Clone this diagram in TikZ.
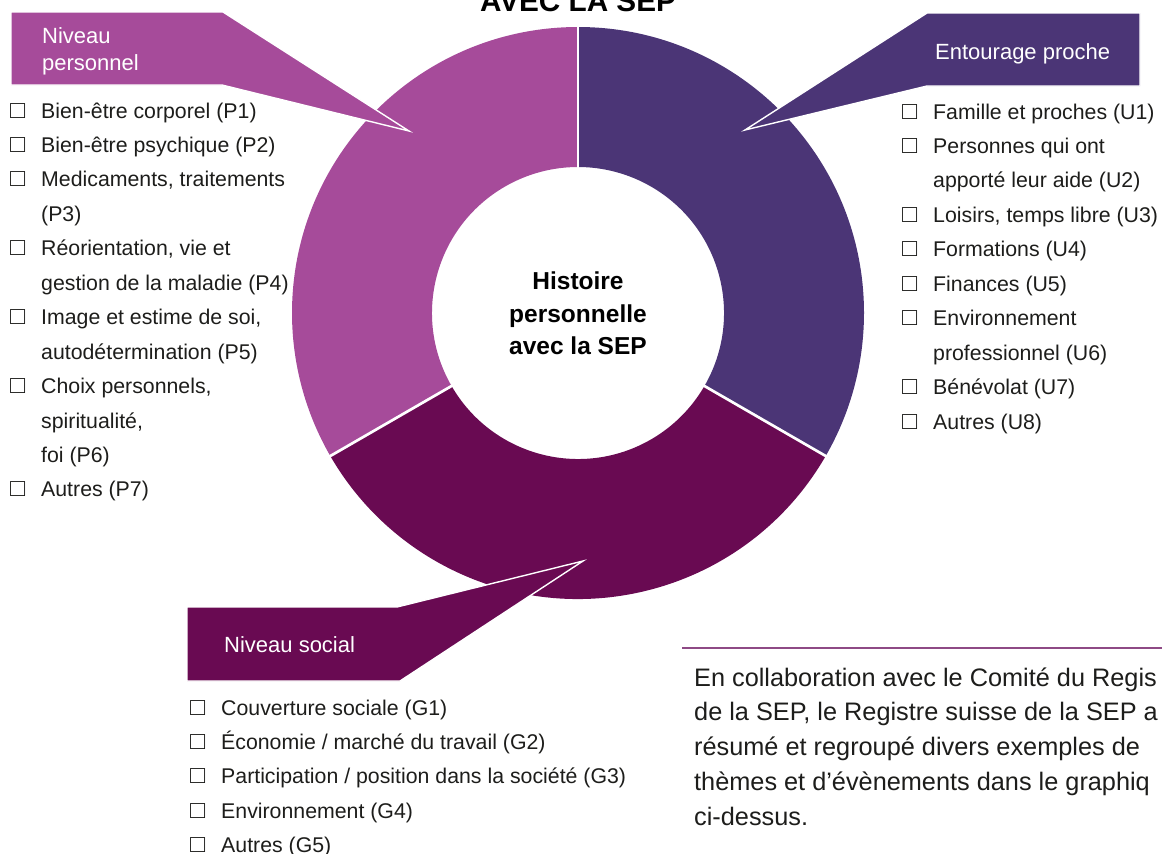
\documentclass[tikz,border=0pt]{standalone}
\usepackage{fontspec}
\setmainfont{Liberation Sans}
\definecolor{perso}{HTML}{A64B9A}
\definecolor{entour}{HTML}{4B3576}
\definecolor{social}{HTML}{690A52}
\definecolor{ink}{HTML}{1D1D1B}
\definecolor{rulecol}{HTML}{8E4A85}
\tikzset{
  seg/.style={draw=none},
  sep/.style={white, line width=2.7pt},
  callout/.style={draw=white, line width=1.4pt, line join=miter},
  calltext/.style={anchor=base west, inner sep=0pt, text=white,
    font=\fontsize{22}{27}\selectfont},
  listtext/.style={anchor=base west, inner sep=0pt, text=ink,
    font=\fontsize{21.3}{34.45}\selectfont},
  paratext/.style={anchor=base west, inner sep=0pt, text=ink,
    font=\fontsize{25.3}{34.75}\selectfont},
}
\newcommand{\bx}{\makebox[31pt][l]{\fontsize{25}{25}\selectfont □}}
\begin{document}
\begin{tikzpicture}[x=1pt, y=-1pt]
\useasboundingbox (0,0) rectangle (1162,854);

% ring of three themes
\begin{scope}[shift={(578,313)}, yscale=-1]
  \fill[perso]  (90:286) arc[start angle=90, end angle=210, radius=286]
     -- (210:146) arc[start angle=210, end angle=90, radius=146] -- cycle;
  \fill[entour] (90:286) arc[start angle=90, end angle=-30, radius=286]
     -- (-30:146) arc[start angle=-30, end angle=90, radius=146] -- cycle;
  \fill[social] (-30:286) arc[start angle=-30, end angle=-150, radius=286]
     -- (-150:146) arc[start angle=-150, end angle=-30, radius=146] -- cycle;
  \draw[sep] (90:145) -- (90:288);
  \draw[sep] (-30:145) -- (-30:288);
  \draw[sep] (210:145) -- (210:288);
\end{scope}

% title, partly above the page
\node[anchor=base, inner sep=0pt, text=black,
  font=\bfseries\fontsize{29.7}{30}\selectfont] (title) at (578,11) {AVEC LA SEP};

% centre label
\node[anchor=base, inner sep=0pt, text=black,
  font=\bfseries\fontsize{24.5}{32.5}\selectfont] (centre) at (578,289.5)
  {\begin{tabular}[t]{@{}c@{}}Histoire\\personnelle\\avec la SEP\end{tabular}};

% callouts
\fill[perso, callout] (11,12) -- (223,12) -- (409,131) -- (222,85) -- (11,85) -- cycle;
\fill[entour, callout] (927,13) -- (1140,13) -- (1140,86) -- (927,86) -- (745,130) -- cycle;
\fill[social, callout] (187,607) -- (397,607) -- (583,561) -- (400,681) -- (187,681) -- cycle;

\node[calltext] (perso-title) at (42,43)
  {\begin{tabular}[t]{@{}l@{}}Niveau\\personnel\end{tabular}};
\node[calltext] (entour-title) at (935,59) {Entourage proche};
\node[calltext] (social-title) at (224,652) {Niveau social};

% theme lists
\node[listtext] (listP) at (10,118) {\begin{tabular}[t]{@{}l@{}l@{}}
\bx & Bien-être corporel (P1)\\
\bx & Bien-être psychique (P2)\\
\bx & Medicaments, traitements\\
    & (P3)\\
\bx & Réorientation, vie et\\
    & gestion de la maladie (P4)\\
\bx & Image et estime de soi,\\
    & autodétermination (P5)\\
\bx & Choix personnels,\\
    & spiritualité,\\
    & foi (P6)\\
\bx & Autres (P7)
\end{tabular}};

\node[listtext] (listU) at (902,119) {\begin{tabular}[t]{@{}l@{}l@{}}
\bx & Famille et proches (U1)\\
\bx & Personnes qui ont\\
    & apporté leur aide (U2)\\
\bx & Loisirs, temps libre (U3)\\
\bx & Formations (U4)\\
\bx & Finances (U5)\\
\bx & Environnement\\
    & professionnel (U6)\\
\bx & Bénévolat (U7)\\
\bx & Autres (U8)
\end{tabular}};

\node[listtext] (listG) at (190,715) {\begin{tabular}[t]{@{}l@{}l@{}}
\bx & Couverture sociale (G1)\\
\bx & Économie / marché du travail (G2)\\
\bx & Participation / position dans la société (G3)\\
\bx & Environnement (G4)\\
\bx & Autres (G5)
\end{tabular}};

% note with rule above it
\coordinate (ruleA) at (682,648);
\coordinate (ruleB) at (1162,648);
\draw[rulecol, line width=1.5pt] (ruleA) -- (ruleB);
\node[paratext] (note) at (694,686) {\begin{tabular}[t]{@{}l@{}}
En collaboration avec le Comité du Regis\\
de la SEP, le Registre suisse de la SEP a\\
résumé et regroupé divers exemples de\\
thèmes et d’évènements dans le graphiq\\
ci-dessus.
\end{tabular}};
\end{tikzpicture}
\end{document}
